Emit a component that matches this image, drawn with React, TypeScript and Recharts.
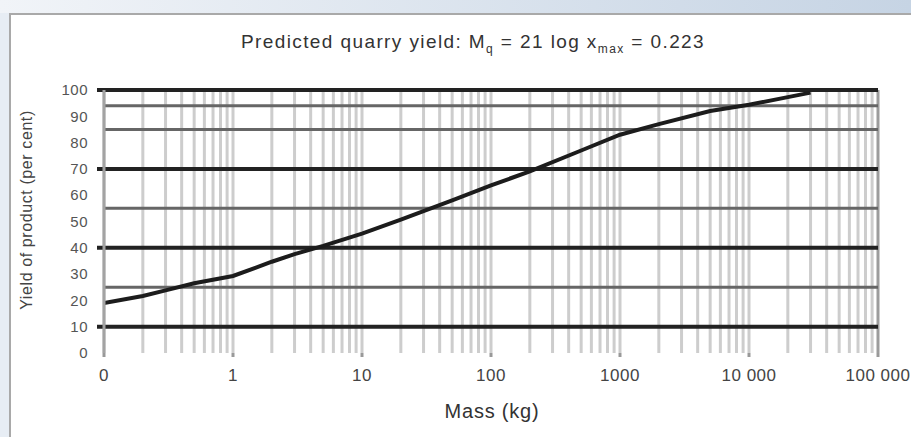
import React from 'react';
import { LineChart, Line, XAxis, YAxis, ReferenceLine } from 'recharts';

const masses = [0.1, 0.2, 0.3, 0.5, 1, 2, 3, 5, 10, 20, 50, 100, 200, 500, 1000, 2000, 5000, 10000, 20000, 30000];
const yields = [19, 21.7, 23.8, 26.5, 29.3, 34.7, 37.6, 40.7, 45.4, 50.7, 58, 63.7, 69.1, 77, 83, 87, 92, 94.4, 97.3, 99];

const xTicks = [0.1, 1, 10, 100, 1000, 10000, 100000];
const xTickLabels = ['0', '1', '10', '100', '1000', '10 000', '100 000'];
const yTicks = [0, 10, 20, 30, 40, 50, 60, 70, 80, 90, 100];

const gridDecades = [0.1, 1, 10, 100, 1000, 10000];
const gridMantissas = [1, 2, 3, 4, 5, 6, 7, 8, 9];
const darkRules = [100, 70, 40, 10];
const grayRules = [94, 85, 55, 25];

const TITLE = 'Predicted quarry yield: M';
const FONT = '"Liberation Sans", Arial, sans-serif';

const data = masses.map((m, i) => ({ m, y: yields[i] }));
const verticalGrid: number[] = [];
gridDecades.forEach((d) => gridMantissas.forEach((k) => verticalGrid.push(+(d * k).toPrecision(6))));

const XTick = (props: any) => {
  const { x, y, payload } = props;
  const idx = xTicks.indexOf(payload.value);
  const label = idx >= 0 ? xTickLabels[idx] : String(payload.value);
  return (
    <text x={x} y={y + 22} textAnchor="middle" fontSize={17} letterSpacing={0.5} fill="#444" fontFamily={FONT}>
      {label}
    </text>
  );
};

const YTick = (props: any) => {
  const { y, payload } = props;
  return (
    <text x={88} y={y} dy="0.35em" textAnchor="end" fontSize={15} letterSpacing={0.5} fill="#555" fontFamily={FONT}>
      {payload.value}
    </text>
  );
};

const DarkRule = (props: any) => {
  const { x1, y1, x2, y2 } = props;
  return <line x1={x1 - 7} y1={y1} x2={x2} y2={y2} stroke="#222" strokeWidth={4} />;
};

export default function App() {
  return (
    <div
      style={{
        position: 'absolute',
        left: 0,
        top: 0,
        width: 911,
        height: 437,
        overflow: 'hidden',
        background: '#e7edf4',
      }}
    >
      <div
        style={{
          position: 'absolute',
          left: 0,
          top: 0,
          width: 911,
          height: 13,
          background: 'linear-gradient(to right, #f1f4f8, #c6d4e4)',
        }}
      />
      <div
        style={{
          position: 'absolute',
          left: 9,
          top: 13,
          width: 902,
          height: 424,
          background: '#fff',
          borderLeft: '2px solid #a9a9a9',
          borderTop: '2px solid #a9a9a9',
          boxSizing: 'border-box',
        }}
      />
      <div
        style={{
          position: 'absolute',
          left: 0,
          top: 31,
          width: 946,
          textAlign: 'center',
          fontFamily: FONT,
          fontSize: 19,
          letterSpacing: 1.4,
          color: '#333',
          whiteSpace: 'nowrap',
        }}
      >
        {TITLE}
        <sub style={{ fontSize: 12 }}>q</sub> = 21 log x<sub style={{ fontSize: 12 }}>max</sub> = 0.223
      </div>
      <div
        style={{
          position: 'absolute',
          left: 27,
          top: 210,
          transform: 'translate(-50%, -50%) rotate(-90deg)',
          fontFamily: FONT,
          fontSize: 16,
          letterSpacing: 0.6,
          color: '#444',
          whiteSpace: 'nowrap',
        }}
      >
        Yield of product (per cent)
      </div>
      <div
        style={{
          position: 'absolute',
          left: 492,
          top: 411,
          transform: 'translate(-50%, -50%)',
          fontFamily: FONT,
          fontSize: 20,
          letterSpacing: 0.8,
          color: '#333',
          whiteSpace: 'nowrap',
        }}
      >
        Mass (kg)
      </div>
      <div style={{ position: 'absolute', left: 0, top: 0 }}>
        <LineChart width={911} height={437} data={data} margin={{ top: 90, right: 33, bottom: 54, left: 0 }}>
          <XAxis
            dataKey="m"
            type="number"
            scale="log"
            domain={[0.1, 100000]}
            allowDataOverflow
            ticks={xTicks}
            tick={<XTick />}
            axisLine={false}
            tickLine={{ stroke: '#999', strokeWidth: 3 }}
            tickSize={4}
            height={30}
            interval={0}
          />
          <YAxis
            type="number"
            domain={[0, 100]}
            ticks={yTicks}
            tick={<YTick />}
            axisLine={{ stroke: '#a3a3a3', strokeWidth: 3 }}
            tickLine={false}
            width={104}
            interval={0}
          />
          {verticalGrid.map((v) => (
            <ReferenceLine key={'v' + v} x={v} stroke="#cdcdcd" strokeWidth={3} />
          ))}
          <ReferenceLine x={100000} stroke="#9c9c9c" strokeWidth={3} />
          {grayRules.map((v) => (
            <ReferenceLine key={'g' + v} y={v} stroke="#666" strokeWidth={3} />
          ))}
          {darkRules.map((v) => (
            <ReferenceLine key={'d' + v} y={v} shape={<DarkRule />} ifOverflow="visible" />
          ))}
          <Line
            type="linear"
            dataKey="y"
            stroke="#1c1c1c"
            strokeWidth={4}
            dot={false}
            isAnimationActive={false}
          />
        </LineChart>
      </div>
    </div>
  );
}
